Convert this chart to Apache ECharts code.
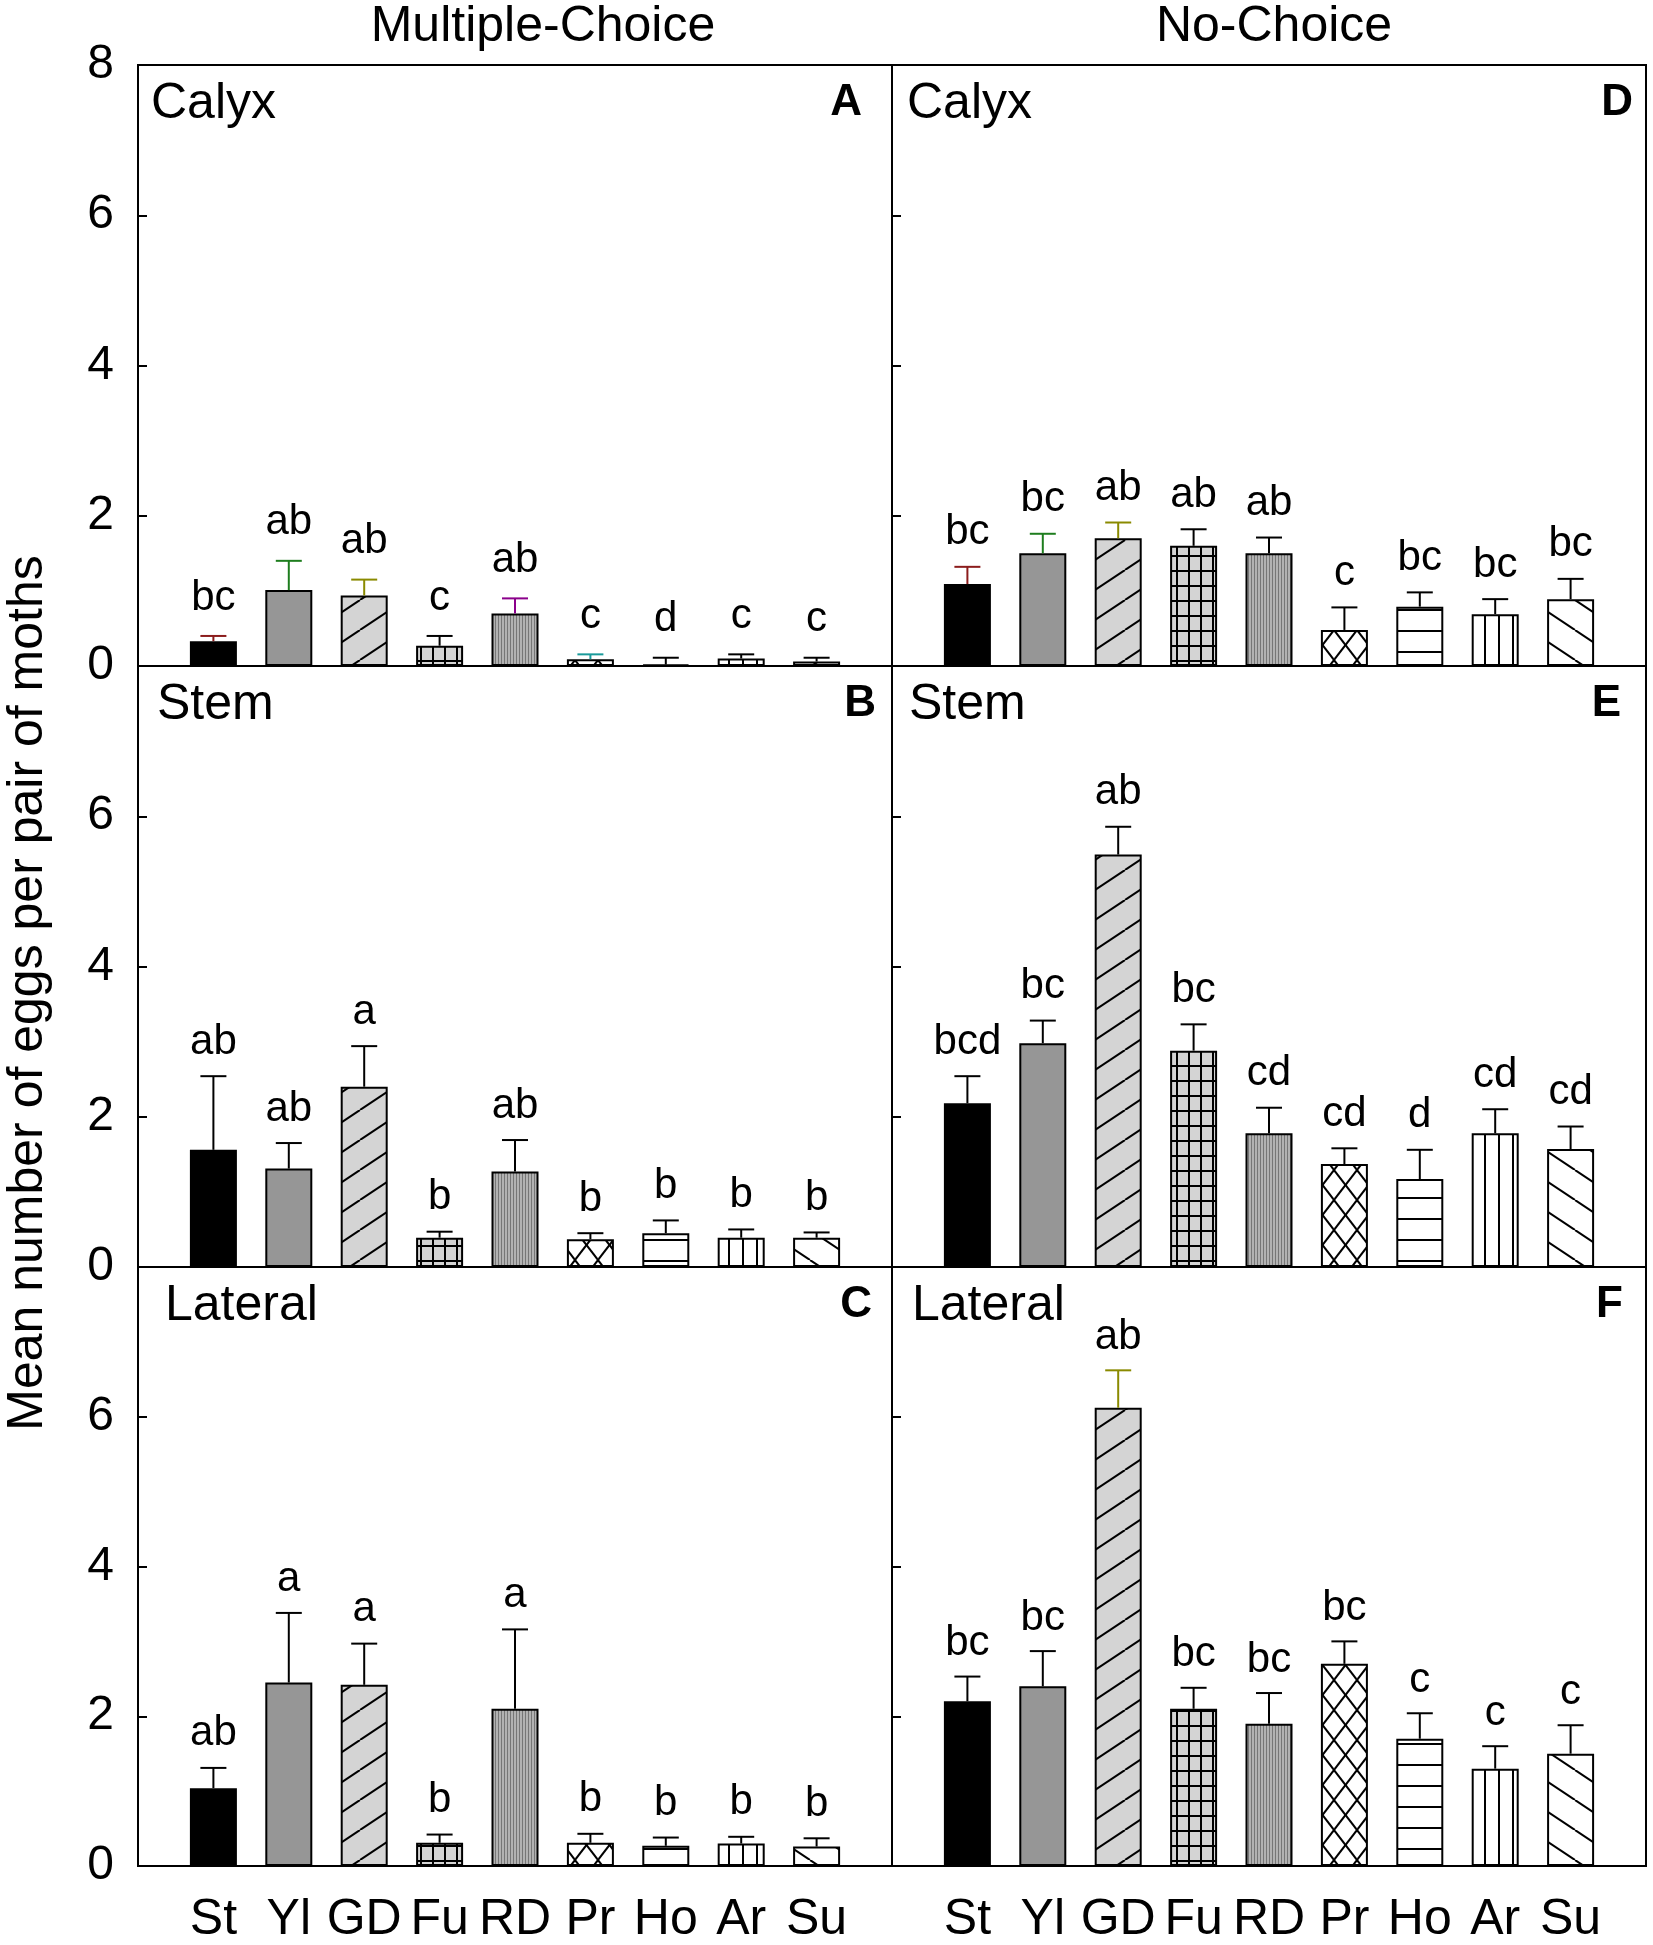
<!DOCTYPE html>
<html>
<head>
<meta charset="utf-8" />
<script src="https://cdn.jsdelivr.net/npm/echarts@6/dist/echarts.min.js"></script>
<style>
  html, body { margin: 0; padding: 0; background: #fff; }
  #main { width: 1653px; height: 1945px; }
</style>
<title>Eggs per pair of moths</title>
</head>
<body>
<div id="main"></div>
<script>
// host plants (x axis)
var categories = ['St', 'Yl', 'GD', 'Fu', 'RD', 'Pr', 'Ho', 'Ar', 'Su'];
var yTicks = [0, 2, 4, 6, 8];

// Multiple-choice
var mcCalyx = [0.33, 1.01, 0.94, 0.27, 0.70, 0.09, 0.02, 0.10, 0.06];
var mcCalyxSe = [0.07, 0.39, 0.21, 0.13, 0.20, 0.065, 0.09, 0.055, 0.05];
var mcCalyxLetters = ['bc', 'ab', 'ab', 'c', 'ab', 'c', 'd', 'c', 'c'];

var mcStem = [1.56, 1.31, 2.40, 0.39, 1.27, 0.37, 0.45, 0.39, 0.39];
var mcStemSe = [0.98, 0.34, 0.54, 0.08, 0.42, 0.08, 0.17, 0.11, 0.07];
var mcStemLetters = ['ab', 'ab', 'a', 'b', 'ab', 'b', 'b', 'b', 'b'];

var mcLateral = [1.04, 2.45, 2.42, 0.31, 2.10, 0.31, 0.27, 0.30, 0.26];
var mcLateralSe = [0.27, 0.93, 0.55, 0.11, 1.06, 0.12, 0.11, 0.09, 0.11];
var mcLateralLetters = ['ab', 'a', 'a', 'b', 'a', 'b', 'b', 'b', 'b'];

// No-choice
var ncCalyx = [1.09, 1.50, 1.70, 1.60, 1.50, 0.48, 0.79, 0.69, 0.89];
var ncCalyxSe = [0.23, 0.26, 0.21, 0.22, 0.21, 0.30, 0.19, 0.20, 0.27];
var ncCalyxLetters = ['bc', 'bc', 'ab', 'ab', 'ab', 'c', 'bc', 'bc', 'bc'];

var ncStem = [2.18, 2.98, 5.49, 2.88, 1.78, 1.37, 1.17, 1.78, 1.57];
var ncStemSe = [0.36, 0.30, 0.37, 0.35, 0.34, 0.21, 0.39, 0.32, 0.30];
var ncStemLetters = ['bcd', 'bc', 'ab', 'bc', 'cd', 'cd', 'd', 'cd', 'cd'];

var ncLateral = [2.20, 2.40, 6.12, 2.10, 1.90, 2.70, 1.70, 1.30, 1.50];
var ncLateralSe = [0.33, 0.47, 0.50, 0.28, 0.41, 0.30, 0.34, 0.30, 0.38];
var ncLateralLetters = ['bc', 'bc', 'ab', 'bc', 'bc', 'bc', 'c', 'c', 'c'];

var FONT = '"Liberation Sans", Arial, sans-serif';

// fill patterns for the bars
function pat(w, h, bg, draw) {
  var c = document.createElement('canvas');
  c.width = w; c.height = h;
  var g = c.getContext('2d');
  g.fillStyle = bg; g.fillRect(0, 0, w, h);
  g.strokeStyle = '#000'; g.fillStyle = '#000';
  draw(g, w, h);
  return { image: c, repeat: 'repeat' };
}
function diag(g, w, h, up) {
  g.lineWidth = 2;
  [-1, 0, 1].forEach(function (k) {
    g.beginPath();
    if (up) { g.moveTo(k * w, h); g.lineTo(k * w + w, 0); }
    else { g.moveTo(k * w, 0); g.lineTo(k * w + w, h); }
    g.stroke();
  });
}
var fills = [
  '#000000',
  '#969696',
  pat(45, 30, '#d4d4d4', function (g, w, h) { diag(g, w, h, true); }),
  pat(12, 15, '#d4d4d4', function (g, w, h) { g.fillRect(0, 0, 2, h); g.fillRect(0, 0, w, 2); }),
  pat(3, 10, '#b2b2b2', function (g, w, h) { g.fillStyle = '#767676'; g.fillRect(0, 0, 1, h); }),
  pat(23, 30, '#ffffff', function (g, w, h) { diag(g, w, h, true); diag(g, w, h, false); }),
  pat(10, 21, '#ffffff', function (g, w, h) { g.fillRect(0, 0, w, 2); }),
  pat(14, 10, '#ffffff', function (g, w, h) { g.fillRect(0, 0, 2, h); }),
  pat(45, 30, '#ffffff', function (g, w, h) { diag(g, w, h, false); })
];

var RED = '#8b1c1c', GREEN = '#1e7d1e', OLIVE = '#8a8a00', PURPLE = '#8b008b', TEAL = '#1a9a9a', K = '#000';

var panels = [
  { tag: 'A', name: 'Calyx',   col: 0, row: 0, mean: mcCalyx,   se: mcCalyxSe,   letters: mcCalyxLetters,
    caps: [RED, GREEN, OLIVE, K, PURPLE, TEAL, K, K, K], gap: 38, nameDx: 13, tagDx: 30 },
  { tag: 'B', name: 'Stem',    col: 0, row: 1, mean: mcStem,    se: mcStemSe,    letters: mcStemLetters,
    caps: null, gap: 34, nameDx: 19, tagDx: 16 },
  { tag: 'C', name: 'Lateral', col: 0, row: 2, mean: mcLateral, se: mcLateralSe, letters: mcLateralLetters,
    caps: null, gap: 34, nameDx: 27, tagDx: 20 },
  { tag: 'D', name: 'Calyx',   col: 1, row: 0, mean: ncCalyx,   se: ncCalyxSe,   letters: ncCalyxLetters,
    caps: [RED, GREEN, OLIVE, K, K, K, K, K, K], gap: 34, nameDx: 15, tagDx: 13 },
  { tag: 'E', name: 'Stem',    col: 1, row: 1, mean: ncStem,    se: ncStemSe,    letters: ncStemLetters,
    caps: null, gap: 34, nameDx: 17, tagDx: 25 },
  { tag: 'F', name: 'Lateral', col: 1, row: 2, mean: ncLateral, se: ncLateralSe, letters: ncLateralLetters,
    caps: [K, K, OLIVE, K, K, K, K, K, K], gap: 33, nameDx: 20, tagDx: 23 }
];

var colLeft = [138, 892], rowTop = [65, 666, 1267], W = 754, H = 601;

var grids = [], xAxes = [], yAxes = [], series = [], texts = [];

panels.forEach(function (p, i) {
  var left = colLeft[p.col], top = rowTop[p.row];
  grids.push({ left: left, top: top, width: W, height: H, show: true,
    borderColor: '#000', borderWidth: 2, backgroundColor: 'transparent' });

  xAxes.push({
    gridIndex: i, type: 'value', min: 0, max: categories.length + 1, interval: 1,
    axisLine: { show: false }, axisTick: { show: false }, splitLine: { show: false },
    axisLabel: {
      show: p.row === 2, margin: 29, color: '#000', fontSize: 50, fontFamily: FONT,
      formatter: function (v) { return categories[v - 1] || ''; }
    }
  });

  yAxes.push({
    gridIndex: i, type: 'value', min: yTicks[0], max: yTicks[yTicks.length - 1], interval: 2,
    axisLine: { show: false }, splitLine: { show: false },
    axisTick: { show: true, inside: true, length: 9, lineStyle: { color: '#000', width: 2 } },
    axisLabel: {
      show: p.col === 0, showMaxLabel: p.row === 0, margin: 24,
      color: '#000', fontSize: 48, fontFamily: FONT
    }
  });

  series.push({
    type: 'bar', xAxisIndex: i, yAxisIndex: i, barWidth: 47, z: 2,
    itemStyle: { borderColor: '#000', borderWidth: 2 },
    data: p.mean.map(function (v, k) {
      return { value: [k + 1, v], itemStyle: { color: fills[k] } };
    })
  });

  // error bars and significance letters
  series.push({
    type: 'custom', xAxisIndex: i, yAxisIndex: i, z: 5, clip: false,
    data: p.mean.map(function (v, k) { return [k + 1, v, p.se[k]]; }),
    encode: { x: 0, y: 1 },
    renderItem: function (params, api) {
      var k = params.dataIndex;
      var x = api.value(0), m = api.value(1), s = api.value(2);
      var a = api.coord([x, m]), b = api.coord([x, m + s]);
      var col = p.caps ? p.caps[k] : '#000';
      return {
        type: 'group',
        children: [
          { type: 'line', shape: { x1: a[0], y1: a[1], x2: b[0], y2: b[1] },
            style: { stroke: col, lineWidth: 2 } },
          { type: 'line', shape: { x1: b[0] - 13, y1: b[1], x2: b[0] + 13, y2: b[1] },
            style: { stroke: col, lineWidth: 2 } },
          { type: 'text', x: b[0], y: b[1] - p.gap,
            style: { text: p.letters[k], fill: '#000', font: '42px ' + FONT,
              align: 'center', verticalAlign: 'middle' } }
        ]
      };
    }
  });

  texts.push({ type: 'text', left: left + p.nameDx, top: top + 14,
    style: { text: p.name, fill: '#000', font: '50px ' + FONT } });
  texts.push({ type: 'text', right: 1653 - (left + W - p.tagDx), top: top + 16,
    style: { text: p.tag, fill: '#000', font: 'bold 44px ' + FONT } });
});

var option = {
  animation: false,
  backgroundColor: '#fff',
  grid: grids,
  xAxis: xAxes,
  yAxis: yAxes,
  series: series,
  graphic: texts.concat([
    { type: 'text', x: 543, y: 27,
      style: { text: 'Multiple-Choice', fill: '#000', font: '50px ' + FONT, align: 'center', verticalAlign: 'middle' } },
    { type: 'text', x: 1274, y: 27,
      style: { text: 'No-Choice', fill: '#000', font: '50px ' + FONT, align: 'center', verticalAlign: 'middle' } },
    { type: 'text', x: 28, y: 993, rotation: Math.PI / 2,
      style: { text: 'Mean number of eggs per pair of moths', fill: '#000', font: '50px ' + FONT,
        align: 'center', verticalAlign: 'middle' } }
  ])
};

var myChart = echarts.init(document.getElementById('main'));
myChart.setOption(option);
</script>
</body>
</html>
